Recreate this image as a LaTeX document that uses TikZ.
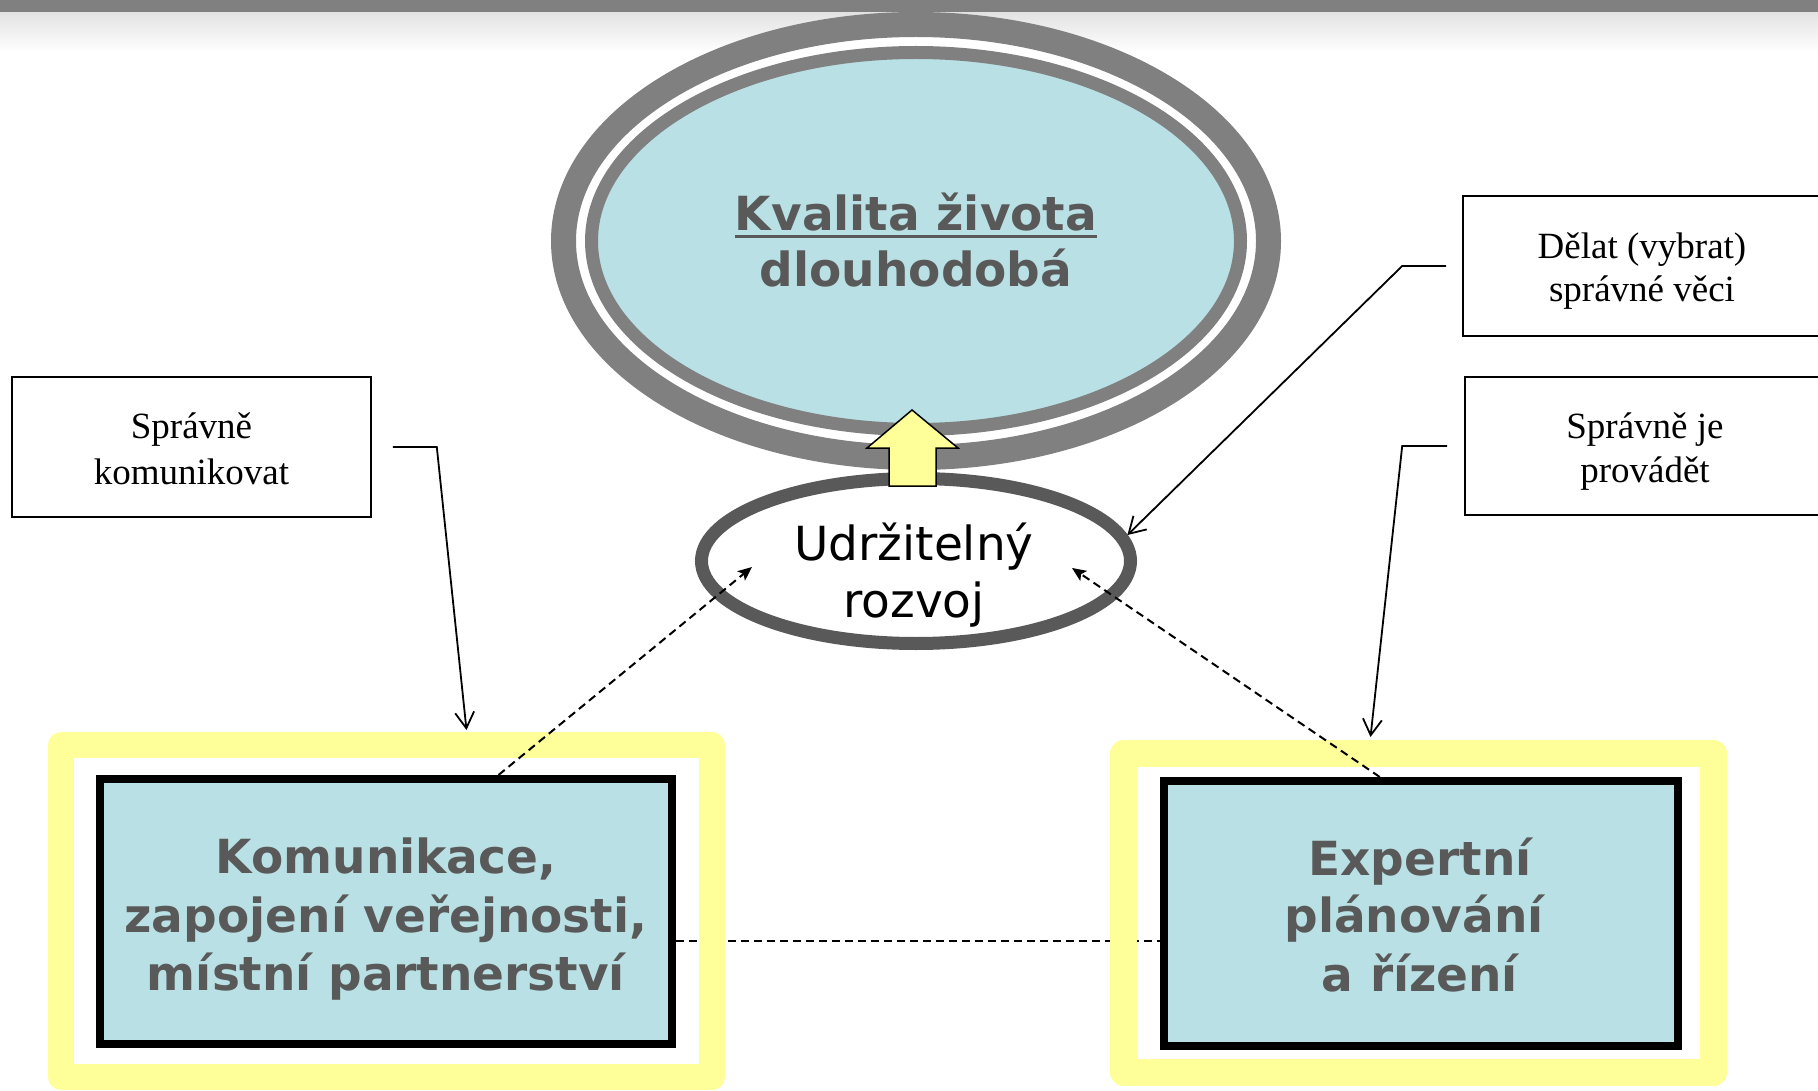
\documentclass[tikz,border=0pt]{standalone}
\usepackage{fontspec}
\setmainfont{Liberation Serif}
\newfontfamily\dvs{DejaVu Sans}
\usetikzlibrary{shapes.geometric,arrows.meta,calc}
\definecolor{hdr}{RGB}{128,128,128}
\definecolor{hdrlight}{RGB}{226,226,226}
\definecolor{ringg}{RGB}{128,128,128}
\definecolor{ringd}{RGB}{89,89,89}
\definecolor{txtg}{RGB}{89,89,89}
\definecolor{cyanf}{RGB}{185,224,228}
\definecolor{yel}{RGB}{255,255,153}
\begin{document}
\begin{tikzpicture}[x=1pt,y=-1pt,
  lbl/.style={draw=black, line width=1.6pt, fill=white, minimum width=359pt, minimum height=140pt, inner sep=0pt},
  sert/.style={anchor=base, inner sep=0pt, font=\fontsize{37}{46}\selectfont},
  bigt/.style={anchor=base, inner sep=0pt, text=txtg, font=\dvs\bfseries\fontsize{47}{57}\selectfont},
  urt/.style={anchor=base, inner sep=0pt, text=black, font=\dvs\fontsize{47}{57}\selectfont},
  yframe/.style={draw=yel, line join=round, inner sep=0pt},
  blbox/.style={draw=black, line width=8pt, fill=cyanf, inner sep=0pt},
  conn/.style={draw=black, line width=1.8pt, -{Straight Barb[length=16pt,width=19pt]}},
  dconn/.style={draw=black, line width=2pt, dash pattern=on 8pt off 5pt, -{Stealth[length=14pt,width=12pt,inset=3pt]}},
  dline/.style={draw=black, line width=2pt, dash pattern=on 8pt off 5pt},
]
\useasboundingbox (0,0) rectangle (1818,1091);
\clip (0,0) rectangle (1818,1091);
\fill[white] (0,0) rectangle (1818,1091);
\shade[top color=hdrlight, bottom color=white] (0,12) rectangle (1818,52);

% big ellipse
\node[ellipse, draw=ringg, line width=25pt, fill=white, minimum width=705pt, minimum height=433pt, inner sep=0pt] (kvo) at (916,241) {};
\node[ellipse, draw=ringg, line width=13pt, fill=cyanf, minimum width=649pt, minimum height=377pt, inner sep=0pt] (kvi) at (916,241) {};
\node[bigt, font=\dvs\bfseries\fontsize{47}{56}\selectfont] (kv1) at (916,231) {Kvalita života};
\node[bigt, font=\dvs\bfseries\fontsize{47}{56}\selectfont] (kv2) at (916,287) {dlouhodobá};
\draw[txtg, line width=3pt] ([yshift=-6pt]kv1.base west) -- ([yshift=-6pt]kv1.base east);

% header bar
\fill[hdr] (0,0) rectangle (1818,12);

% small ellipse
\node[ellipse, draw=ringd, line width=13pt, fill=white, minimum width=429pt, minimum height=165pt, inner sep=0pt] (ur) at (916,561) {};
\node[urt] (ur1) at (914,560) {Udržitelný};
\node[urt] (ur2) at (914,617) {rozvoj};

% yellow arrow
\draw[fill=yel, line width=1.5pt, line join=miter] (912,410) -- (958,448) -- (936,448) -- (936,486) -- (889,486) -- (889,448) -- (867,448) -- cycle;

% boxes and horizontal dashed link (passes under the yellow frames)
\node[blbox, minimum width=572pt, minimum height=265pt] (komb) at (386,911.5) {};
\node[blbox, minimum width=514pt, minimum height=265pt] (expb) at (1421,913.5) {};
\coordinate (hy) at (0,941);
\draw[dline] (komb.east |- hy) -- (expb.west |- hy);

% left frame
\node[yframe, line width=26pt, minimum width=651pt, minimum height=332pt] (komy) at (386.5,911) {};
\node[bigt] (k1) at (386,873) {Komunikace,};
\node[bigt] (k2) at (386,932) {zapojení veřejnosti,};
\node[bigt] (k3) at (386,990) {místní partnerství};

% right frame
\node[yframe, line width=27pt, minimum width=590pt, minimum height=319pt] (expy) at (1418.5,913) {};
\node[bigt] (e1) at (1420,875) {Expertní};
\node[bigt] (e2) at (1414,932) {plánování};
\node[bigt] (e3) at (1420,991) {a řízení};

% label boxes
\node[lbl] (sk) at (191.5,447) {};
\node[sert] (sk1) at (191.5,438) {Správně};
\node[sert] (sk2) at (191.5,484) {komunikovat};
\node[lbl] (dv) at (1642.5,266) {};
\node[sert] (dv1) at (1642,259) {Dělat (vybrat)};
\node[sert] (dv2) at (1642,302) {správné věci};
\node[lbl, minimum height=138pt] (sp) at (1644.5,446) {};
\node[sert] (sp1) at (1645,438) {Správně je};
\node[sert] (sp2) at (1645,482) {provádět};

% dashed connectors
\draw[dconn] ($(komb.north west)!0.694!(komb.north east)$) -- ($(ur.center)+(-164,6)$);
\draw[dconn] ($(expb.north west)!0.421!(expb.north east)$) -- ($(ur.center)+(156,7)$);

% solid connectors
\draw[conn] ([xshift=21pt]sk.east) -- ++(44,0) -- ($(komy.north)+(80,-2)$);
\draw[conn] ([xshift=-16pt]dv.west) -- ++(-44,0) -- (ur.7);
\draw[conn] ([xshift=-17pt]sp.west) -- ++(-45,0) -- ($(expy.north)+(-48,-3)$);
\end{tikzpicture}
\end{document}
